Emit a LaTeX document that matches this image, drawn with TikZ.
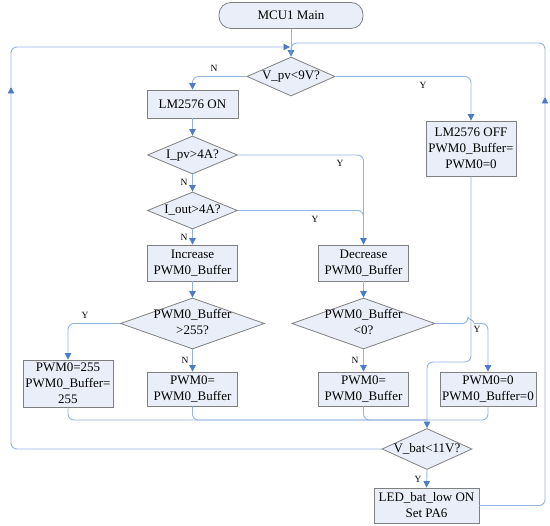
\documentclass[tikz,border=0pt]{standalone}
\usepackage{fontspec}
\setmainfont{Liberation Serif}
\usetikzlibrary{shapes.geometric,arrows.meta}
\definecolor{boxfill}{HTML}{E9EEF8}
\definecolor{boxdraw}{HTML}{808080}
\definecolor{conncol}{HTML}{95B3E0}
\definecolor{tipcol}{HTML}{4A7CC9}
\newcommand{\dtxt}[1]{\makebox[0pt]{\begin{tabular}{@{}c@{}}#1\end{tabular}}}
\begin{document}
\begin{tikzpicture}[x=1pt,y=-1pt,
  base/.style={draw=boxdraw,fill=boxfill,line width=0.8pt,inner sep=0pt,font=\fontsize{13}{16}\selectfont},
  proc/.style={base,rectangle,align=center},
  term/.style={base,rectangle,rounded corners=12pt,align=center},
  dia/.style={base,diamond,aspect=1},
  conn/.style={draw=conncol,line width=0.9pt,rounded corners=6pt},
  arr/.style={conn,-{Triangle[length=6.5pt,width=6.5pt,color=tipcol]}},
  lab/.style={inner sep=0pt,font=\fontsize{9.5}{10}\selectfont}]
\useasboundingbox (0,0) rectangle (550,526);

% nodes
\node[term,minimum width=144pt,minimum height=26pt] (start) at (291,15.5) {MCU1 Main};
\node[dia,minimum width=88pt,minimum height=39pt] (d1) at (291,76.5) {\dtxt{V\_pv<9V?}};
\node[proc,minimum width=91pt,minimum height=28pt] (on) at (192.5,104) {LM2576 ON};
\node[proc,minimum width=90pt,minimum height=55pt] (off) at (471,148.5) {LM2576 OFF\\PWM0\_Buffer=\\PWM0=0};
\node[dia,minimum width=90pt,minimum height=38pt] (d2) at (192.5,155) {\dtxt{I\_pv>4A?}};
\node[dia,minimum width=90pt,minimum height=37pt] (d3) at (192.5,210.5) {\dtxt{I\_out>4A?}};
\node[proc,minimum width=90pt,minimum height=36pt] (inc) at (192.5,263) {Increase\\PWM0\_Buffer};
\node[proc,minimum width=90pt,minimum height=36pt] (dec) at (363.5,263) {Decrease\\PWM0\_Buffer};
\node[dia,minimum width=144pt,minimum height=51pt] (d4) at (192.5,323.5) {\dtxt{PWM0\_Buffer\\>255?}};
\node[dia,minimum width=143pt,minimum height=51pt] (d5) at (363.5,323.5) {\dtxt{PWM0\_Buffer\\<0?}};
\node[proc,minimum width=90pt,minimum height=47pt] (b255) at (68,383.5) {PWM0=255\\PWM0\_Buffer=\\255};
\node[proc,minimum width=90pt,minimum height=34pt] (bl) at (192.5,389) {PWM0=\\PWM0\_Buffer};
\node[proc,minimum width=90pt,minimum height=34pt] (br) at (363.5,389) {PWM0=\\PWM0\_Buffer};
\node[proc,minimum width=96pt,minimum height=34pt] (b0) at (488,389) {PWM0=0\\PWM0\_Buffer=0};
\node[dia,minimum width=90pt,minimum height=41pt] (d6) at (427,449) {\dtxt{V\_bat<11V?}};
\node[proc,minimum width=105pt,minimum height=35pt] (led) at (426.5,505.5) {LED\_bat\_low ON\\Set PA6};

% helper coordinates
\coordinate (j1) at (363.5,236);
\coordinate (hopA) at (468,323.5);
\coordinate (hopB) at (474,323.5);
\coordinate (c1) at (427,362);
\coordinate (mj) at (427,420);
\coordinate (la) at (11,87);
\coordinate (lj) at (290,47);
\coordinate (ra) at (545,97);
\coordinate (rtop) at (291,43);
\coordinate (rdown) at (291,54);

% connectors
\draw[arr] (start.south) -- (d1.north);
\draw[arr] (d1.west) -| (on.north);
\draw[arr] (d1.east) -| (off.north);
\draw[arr] (on.south) -- (d2.north);
\draw[conn] (d3.east) -| (j1);
\draw[arr] (d2.east) -| (dec.north);
\draw[arr] (d2.south) -- (d3.north);
\draw[arr] (d3.south) -- (inc.north);
\draw[arr] (inc.south) -- (d4.north);
\draw[arr] (dec.south) -- (d5.north);
\draw[arr] (d4.west) -| (b255.north);
\draw[arr] (d4.south) -- (bl.north);
\draw[arr] (d5.south) -- (br.north);
\draw[arr] (off.south) |- (c1) -- (d6.north);
\draw[conn] (d5.east) -- (hopA) .. controls (468,319.5) and (474,319.5) .. (hopB);
\draw[arr] (hopB) -| (b0.north);
\draw[conn] (b255.south) |- (mj);
\draw[conn] (bl.south) |- (mj);
\draw[conn] (br.south) |- (mj);
\draw[conn] (b0.south) |- (mj);
\draw[arr] (d6.south) -- (led.north);
\draw[arr] (d6.west) -| (la);
\draw[arr] (la) |- (lj);
\draw[arr] (led.east) -| (ra);
\draw[conn] (ra) |- (rtop) -- (rdown);

% labels
\node[lab] (lN1) at (214,68) {N};
\node[lab] (lY1) at (423,85) {Y};
\node[lab] (lY2) at (340,163) {Y};
\node[lab] (lN2) at (184,182) {N};
\node[lab] (lY3) at (315,219) {Y};
\node[lab] (lN3) at (184,237) {N};
\node[lab] (lY4) at (85,315) {Y};
\node[lab] (lN4) at (185,360) {N};
\node[lab] (lN5) at (355,360) {N};
\node[lab] (lY5) at (477,329) {Y};
\node[lab] (lY6) at (418,479) {Y};
\end{tikzpicture}
\end{document}
